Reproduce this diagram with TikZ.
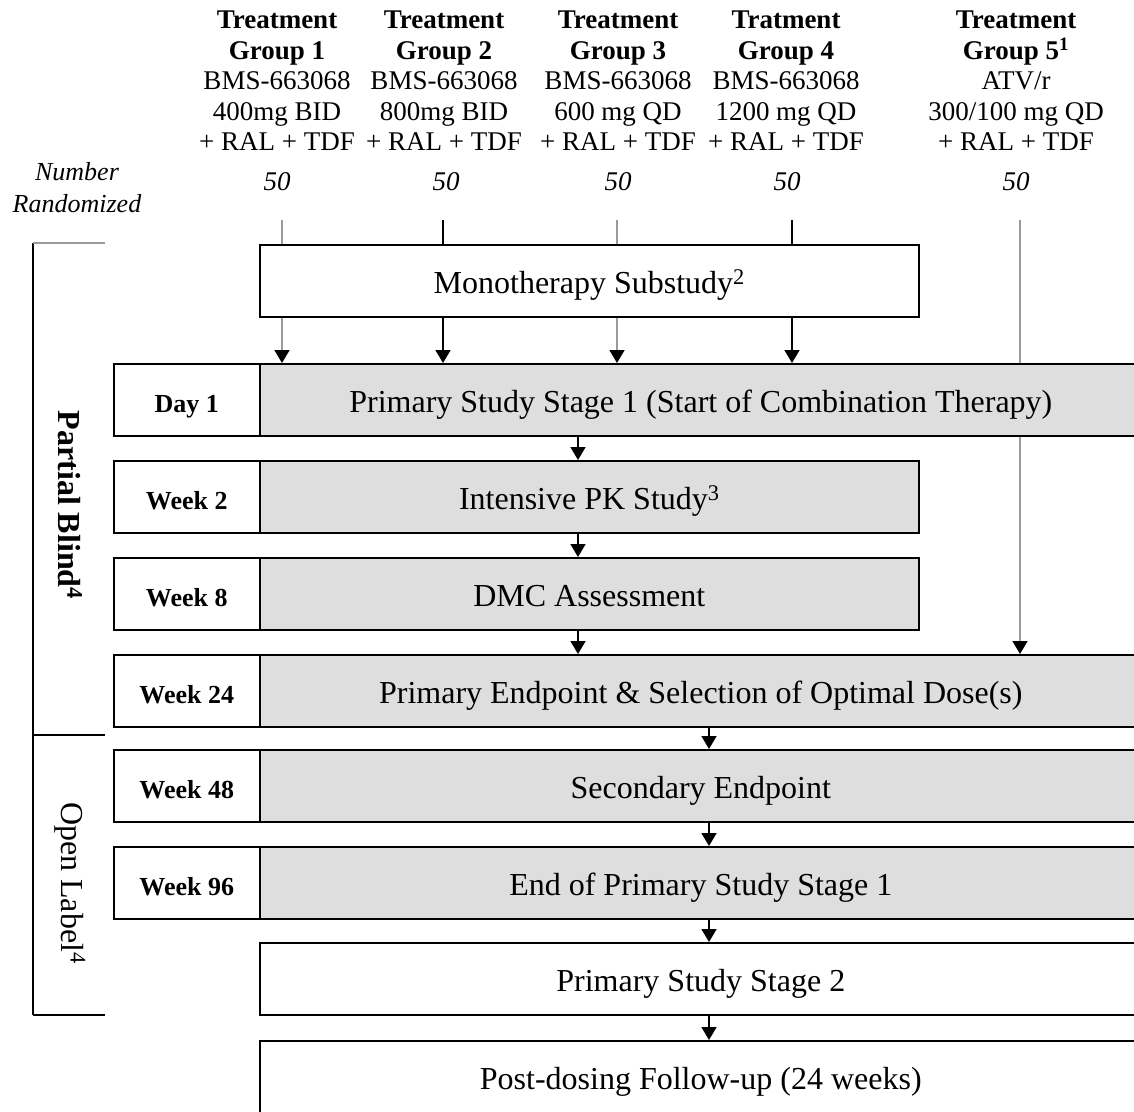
\documentclass[tikz,border=0pt]{standalone}
\usepackage{fontspec}
\setmainfont{Liberation Serif}
\usetikzlibrary{arrows.meta,backgrounds}
\definecolor{boxgray}{HTML}{DEDEDE}
\definecolor{linegray}{HTML}{9A9A9A}
\begin{document}
\begin{tikzpicture}[x=1pt,y=-1pt,
  cell/.style={draw=black, line width=1.6pt, inner sep=0pt, anchor=north west, minimum height=72pt,
    text height=31pt, text depth=6pt},
  labelcell/.style={cell, minimum width=146pt, fill=white, font=\fontsize{26}{30}\selectfont\bfseries},
  graycell/.style={cell, fill=boxgray, font=\fontsize{32}{36}\selectfont},
  whitecell/.style={cell, fill=white, font=\fontsize{32}{36}\selectfont},
  head/.style={anchor=north, inner sep=0pt, align=center, font=\fontsize{27}{30.5}\selectfont},
  num/.style={inner sep=0pt, font=\fontsize{27}{30}\selectfont\itshape},
  side/.style={rotate=-90, inner sep=0pt, font=\fontsize{32}{36}\selectfont},
  conn/.style={line width=1.6pt},
  arr/.style={conn, -{Triangle[width=15pt,length=13pt,color=black]}}
]
\useasboundingbox (0,0) rectangle (1134,1111);
\clip (0,0) rectangle (1134,1111);

% treatment group headers
\node[head] (g1) at (277,11) {\textbf{Treatment}\\\textbf{Group 1}\\BMS-663068\\400mg BID\\+ RAL + TDF};
\node[head] (g2) at (444,11) {\textbf{Treatment}\\\textbf{Group 2}\\BMS-663068\\800mg BID\\+ RAL + TDF};
\node[head] (g3) at (618,11) {\textbf{Treatment}\\\textbf{Group 3}\\BMS-663068\\600 mg QD\\+ RAL + TDF};
\node[head] (g4) at (786,11) {\textbf{Tratment}\\\textbf{Group 4}\\BMS-663068\\1200 mg QD\\+ RAL + TDF};
\node[head] (g5) at (1016,11) {\textbf{Treatment}\\\textbf{Group 5\textsuperscript{1}}\\ATV/r\\300/100 mg QD\\+ RAL + TDF};

% numbers randomized
\node[num, align=center, font=\fontsize{26}{32}\selectfont\itshape] (nr) at (77,188) {Number\\Randomized};
\node[num] (n1) at (277,182) {50};
\node[num] (n2) at (446,182) {50};
\node[num] (n3) at (618,182) {50};
\node[num] (n4) at (787,182) {50};
\node[num] (n5) at (1016,182) {50};

% stages
\node[whitecell, minimum width=659pt] (mono) at (259,244) {Monotherapy Substudy\textsuperscript{2}};

\node[labelcell] (d1l) at (113,363) {Day 1};
\node[graycell, minimum width=882pt] (d1) at (259,363) {Primary Study Stage 1 (Start of Combination Therapy)};

\node[labelcell] (w2l) at (113,460) {Week 2};
\node[graycell, minimum width=659pt] (w2) at (259,460) {Intensive PK Study\textsuperscript{3}};

\node[labelcell] (w8l) at (113,557) {Week 8};
\node[graycell, minimum width=659pt] (w8) at (259,557) {DMC Assessment};

\node[labelcell] (w24l) at (113,654) {Week 24};
\node[graycell, minimum width=882pt] (w24) at (259,654) {Primary Endpoint \& Selection of Optimal Dose(s)};

\node[labelcell] (w48l) at (113,749) {Week 48};
\node[graycell, minimum width=882pt] (w48) at (259,749) {Secondary Endpoint};

\node[labelcell] (w96l) at (113,846) {Week 96};
\node[graycell, minimum width=882pt] (w96) at (259,846) {End of Primary Study Stage 1};

\node[whitecell, minimum width=882pt] (s2) at (259,942) {Primary Study Stage 2};
\node[whitecell, minimum width=882pt] (fu) at (259,1040) {Post-dosing Follow-up (24 weeks)};

% group lines into the monotherapy substudy and on to day 1
\coordinate (t1) at (282,220);
\coordinate (t2) at (443,220);
\coordinate (t3) at (617,220);
\coordinate (t4) at (792,220);
\coordinate (t5) at (1020,220);

\draw[conn, linegray] (t1) -- (t1 |- mono.north);
\draw[conn] (t2) -- (t2 |- mono.north);
\draw[conn, linegray] (t3) -- (t3 |- mono.north);
\draw[conn] (t4) -- (t4 |- mono.north);

\draw[arr, linegray] (t1 |- mono.south) -- (t1 |- d1.north);
\draw[arr] (t2 |- mono.south) -- (t2 |- d1.north);
\draw[arr, linegray] (t3 |- mono.south) -- (t3 |- d1.north);
\draw[arr] (t4 |- mono.south) -- (t4 |- d1.north);

% group 5 runs straight to week 24, behind the day 1 row
\begin{scope}[on background layer]
  \draw[arr, linegray] (t5) -- (t5 |- w24.north);
\end{scope}

% flow between rows
\coordinate (c1) at (578,0);
\coordinate (c2) at (709,0);
\draw[arr] (d1.south -| c1) -- (w2.north -| c1);
\draw[arr] (w2.south -| c1) -- (w8.north -| c1);
\draw[arr] (w8.south -| c1) -- (w24.north -| c1);
\draw[arr] (w24.south -| c2) -- (w48.north -| c2);
\draw[arr] (w48.south -| c2) -- (w96.north -| c2);
\draw[arr] (w96.south -| c2) -- (s2.north -| c2);
\draw[arr] (s2.south -| c2) -- (fu.north -| c2);

% blinding bracket
\coordinate (bt) at (33,243);
\coordinate (bm) at (33,735);
\coordinate (bb) at (33,1015);
\draw[conn] (bt) -- (bb);
\draw[conn, linegray] (bt) -- ++(72,0);
\draw[conn] (bm) -- ++(72,0);
\draw[conn] (bb) -- ++(72,0);
\node[side, font=\fontsize{32}{36}\selectfont\bfseries] (pb) at (70,505) {Partial Blind\textsuperscript{4}};
\node[side] (ol) at (70,883) {Open Label\textsuperscript{4}};
\end{tikzpicture}
\end{document}
